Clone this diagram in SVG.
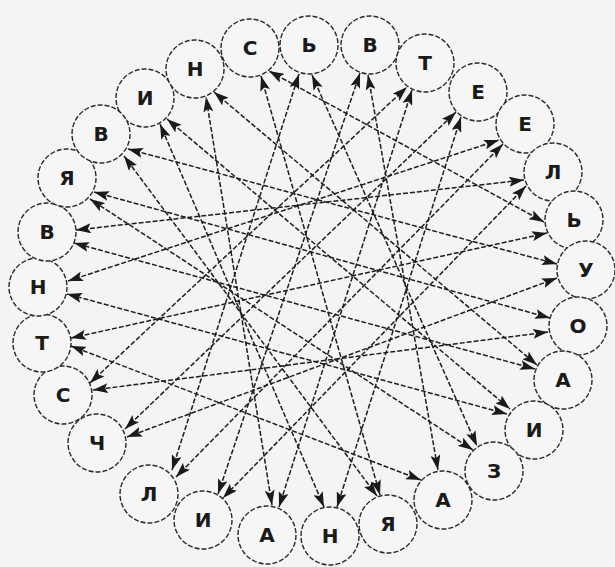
<svg xmlns="http://www.w3.org/2000/svg" width="615" height="567" viewBox="0 0 615 567">
<defs>
<style>
.bg{fill:#f4f4f4}
.c line{stroke:#1e1e1e;stroke-width:1.5;stroke-dasharray:5 2;fill:none;marker-start:url(#ah);marker-end:url(#ah)}
.n circle{fill:#f6f6f6;stroke:#2a2a2a;stroke-width:1.4;stroke-dasharray:5 2}
.n text{font-family:"DejaVu Sans","Liberation Sans",Arial,sans-serif;font-weight:bold;font-size:20px;fill:#1a1a1a;text-anchor:middle;dominant-baseline:central}
</style>
<marker id="ah" viewBox="0 0 15 10" refX="15" refY="5" markerWidth="15" markerHeight="10" markerUnits="userSpaceOnUse" orient="auto-start-reverse">
<path d="M0,0 L15,5 L0,10 L3,5 Z" fill="#1a1a1a"/>
</marker>
</defs>
<rect class="bg" x="0" y="0" width="615" height="567"/>
<g id="connectors" class="c">
<line x1="550" y1="318" x2="94" y2="192"/>
<line x1="548" y1="332" x2="93" y2="390"/>
<line x1="90" y1="383" x2="407" y2="87"/>
<line x1="412" y1="90" x2="279" y2="507"/>
<line x1="272" y1="505" x2="206" y2="97"/>
<line x1="214" y1="92" x2="537" y2="365"/>
<line x1="535" y1="369" x2="74" y2="243"/>
<line x1="76" y1="230" x2="524" y2="180"/>
<line x1="526" y1="186" x2="223" y2="498"/>
<line x1="218" y1="494" x2="360" y2="73"/>
<line x1="368" y1="75" x2="438" y2="470"/>
<line x1="421" y1="480" x2="71" y2="346"/>
<line x1="71" y1="338" x2="547" y2="233"/>
<line x1="544" y1="222" x2="269" y2="71"/>
<line x1="261" y1="76" x2="380" y2="495"/>
<line x1="377" y1="496" x2="124" y2="156"/>
<line x1="128" y1="149" x2="557" y2="264"/>
<line x1="557" y1="278" x2="127" y2="437"/>
<line x1="125" y1="429" x2="456" y2="112"/>
<line x1="461" y1="117" x2="337" y2="507"/>
<line x1="324" y1="507" x2="160" y2="124"/>
<line x1="167" y1="119" x2="510" y2="409"/>
<line x1="507" y1="414" x2="67" y2="294"/>
<line x1="68" y1="281" x2="499" y2="140"/>
<line x1="503" y1="144" x2="176" y2="477"/>
<line x1="172" y1="470" x2="299" y2="74"/>
<line x1="312" y1="75" x2="477" y2="446"/>
<line x1="473" y1="450" x2="90" y2="199"/>
</g>
<g class="n">
<g id="n1"><circle cx="145" cy="98" r="29"/><text x="145" y="98">И</text></g>
<g id="n2"><circle cx="195" cy="69" r="29"/><text x="195" y="69">Н</text></g>
<g id="n3"><circle cx="250" cy="48" r="29"/><text x="250" y="48">С</text></g>
<g id="n4"><circle cx="309" cy="45" r="29"/><text x="309" y="45">Ь</text></g>
<g id="n5"><circle cx="370" cy="45" r="29"/><text x="370" y="45">В</text></g>
<g id="n6"><circle cx="425" cy="63" r="29"/><text x="425" y="63">Т</text></g>
<g id="n7"><circle cx="478" cy="92" r="29"/><text x="478" y="92">Е</text></g>
<g id="n8"><circle cx="525" cy="124" r="29"/><text x="525" y="124">Е</text></g>
<g id="n9"><circle cx="553" cy="172" r="29"/><text x="553" y="172">Л</text></g>
<g id="n10"><circle cx="574" cy="220" r="29"/><text x="574" y="220">Ь</text></g>
<g id="n11"><circle cx="586" cy="270" r="29"/><text x="586" y="270">У</text></g>
<g id="n12"><circle cx="578" cy="326" r="29"/><text x="578" y="326">О</text></g>
<g id="n13"><circle cx="563" cy="380" r="29"/><text x="563" y="380">А</text></g>
<g id="n14"><circle cx="534" cy="430" r="29"/><text x="534" y="430">И</text></g>
<g id="n15"><circle cx="494" cy="471" r="29"/><text x="494" y="471">З</text></g>
<g id="n16"><circle cx="443" cy="500" r="29"/><text x="443" y="500">А</text></g>
<g id="n17"><circle cx="388" cy="524" r="29"/><text x="388" y="524">Я</text></g>
<g id="n18"><circle cx="330" cy="536" r="29"/><text x="330" y="536">Н</text></g>
<g id="n19"><circle cx="267" cy="535" r="29"/><text x="267" y="535">А</text></g>
<g id="n20"><circle cx="203" cy="520" r="29"/><text x="203" y="520">И</text></g>
<g id="n21"><circle cx="149" cy="494" r="29"/><text x="149" y="494">Л</text></g>
<g id="n22"><circle cx="97" cy="443" r="29"/><text x="97" y="443">Ч</text></g>
<g id="n23"><circle cx="63" cy="395" r="29"/><text x="63" y="395">С</text></g>
<g id="n24"><circle cx="42" cy="343" r="29"/><text x="42" y="343">Т</text></g>
<g id="n25"><circle cx="38" cy="287" r="29"/><text x="38" y="287">Н</text></g>
<g id="n26"><circle cx="47" cy="232" r="29"/><text x="47" y="232">В</text></g>
<g id="n27"><circle cx="67" cy="178" r="29"/><text x="67" y="178">Я</text></g>
<g id="n28"><circle cx="101" cy="134" r="29"/><text x="101" y="134">В</text></g>
</g>
</svg>
